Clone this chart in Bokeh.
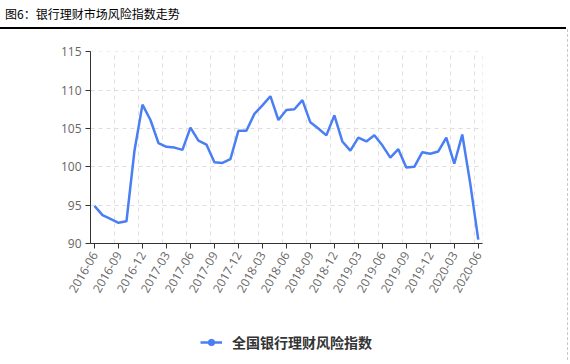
import math
from bokeh.plotting import figure
from bokeh.models import (Range1d, FixedTicker, Grid, Legend, LegendItem, Div,
                          ColumnDataSource)
from bokeh.layouts import column, row
from bokeh.embed import file_html
from bokeh.resources import INLINE

title_text = "图6：银行理财市场风险指数走势"
series_name = "全国银行理财风险指数"

months = [
    "2016-06", "2016-07", "2016-08", "2016-09", "2016-10", "2016-11", "2016-12",
    "2017-01", "2017-02", "2017-03", "2017-04", "2017-05", "2017-06", "2017-07",
    "2017-08", "2017-09", "2017-10", "2017-11", "2017-12", "2018-01", "2018-02",
    "2018-03", "2018-04", "2018-05", "2018-06", "2018-07", "2018-08", "2018-09",
    "2018-10", "2018-11", "2018-12", "2019-01", "2019-02", "2019-03", "2019-04",
    "2019-05", "2019-06", "2019-07", "2019-08", "2019-09", "2019-10", "2019-11",
    "2019-12", "2020-01", "2020-02", "2020-03", "2020-04", "2020-05", "2020-06",
]

risk_index = [
    94.9, 93.7, 93.2, 92.7, 92.9, 102.1, 108.1,
    106.1, 103.1, 102.6, 102.5, 102.2, 105.1, 103.4,
    102.9, 100.6, 100.5, 101.0, 104.7, 104.7, 106.9,
    108.0, 109.2, 106.1, 107.4, 107.5, 108.7, 105.8,
    105.0, 104.1, 106.7, 103.3, 102.1, 103.8, 103.3,
    104.1, 102.8, 101.2, 102.3, 99.9, 100.0, 101.9,
    101.7, 102.0, 103.8, 100.4, 104.2, 97.8, 90.5,
]

y_ticks = [90, 95, 100, 105, 110, 115]

BLUE = "#4a7ef5"
GRID = "#dddddd"
n = len(months)
idx = list(range(n))

source = ColumnDataSource(dict(x=idx, y=risk_index, month=months))

# ---------------- main chart ----------------
p = figure(
    width=567, height=291,
    min_border_left=90, min_border_right=85, min_border_top=22, min_border_bottom=77,
    x_range=Range1d(-0.5, n - 0.5 + 0.03), y_range=Range1d(y_ticks[0], y_ticks[-1] + 0.03),
    output_backend="svg", toolbar_location=None,
    outline_line_color=None, margin=0,
)

line_r = p.line("x", "y", source=source, line_color=BLUE, line_width=2.5)

tick_idx = idx[::3]
p.xaxis.ticker = FixedTicker(ticks=tick_idx)
p.xaxis.major_label_overrides = {i: months[i] for i in tick_idx}
p.xaxis.major_label_orientation = math.pi / 3
p.yaxis.ticker = FixedTicker(ticks=y_ticks)
for ax in (p.xaxis[0], p.yaxis[0]):
    ax.axis_line_color = "#333333"
    ax.major_tick_line_color = "#333333"
    ax.major_tick_out = 5
    ax.major_tick_in = 0
    ax.minor_tick_line_color = None
    ax.major_label_text_color = "#666666"
    ax.major_label_text_font = "Open Sans"
    ax.major_label_text_font_size = "12px"
    ax.major_label_standoff = 4

p.xgrid.visible = False
p.ygrid.grid_line_color = GRID
p.ygrid.grid_line_dash = "4 4"
vgrid = Grid(dimension=0,
             ticker=FixedTicker(ticks=[i - 0.5 for i in idx[::3]] + [n - 0.5]),
             grid_line_color=GRID, grid_line_dash="4 4")
p.add_layout(vgrid)

# ---------------- legend strip ----------------
# The series is drawn here too but outside the visible ranges, so only
# the legend key (line + circle marker) shows.
lg = figure(
    width=567, height=40, min_border=0, margin=0,
    x_range=Range1d(-1000, -999), y_range=Range1d(-1000, -999),
    x_axis_type=None, y_axis_type=None,
    output_backend="svg", toolbar_location=None, outline_line_color=None,
)
lg.xgrid.visible = False
lg.ygrid.visible = False
lg_line = lg.line("x", "y", source=source, line_color=BLUE, line_width=2.5)
lg_mark = lg.scatter("x", "y", source=source, size=11, fill_color=BLUE, line_color=BLUE)
legend = Legend(
    items=[LegendItem(label=series_name, renderers=[lg_line, lg_mark])],
    orientation="horizontal", location=(110, 8),
    border_line_color=None, background_fill_alpha=0,
    label_text_font="Noto Sans CJK SC", label_text_font_size="14px",
    label_text_font_style="bold", label_text_color="#333333",
    label_text_baseline="middle",
    glyph_width=22, glyph_height=16, label_standoff=10,
    margin=0, padding=0,
)
lg.add_layout(legend, "center")

# ---------------- frame decorations ----------------
title = Div(
    text=('<div style="box-sizing:border-box;width:566px;height:29px;padding-left:5px;'
          'line-height:27px;font-family:\'Noto Sans CJK SC\';font-size:12px;color:#000;'
          'border-bottom:2px solid #000;white-space:nowrap;">' + title_text + '</div>'),
    width=566, height=29, margin=0,
)
vline = Div(
    text='<div style="width:0;height:331px;border-left:1px dashed #c8c8c8;"></div>',
    width=1, height=331, margin=0,
)
bottom_rule = Div(
    text='<div style="width:568px;height:2px;background:#000;"></div>',
    width=568, height=2, margin=0,
)

layout = column(title, row(column(p, lg, spacing=0), vline, spacing=0), bottom_rule,
                spacing=0)

open("out.html", "w").write(file_html(layout, INLINE))
